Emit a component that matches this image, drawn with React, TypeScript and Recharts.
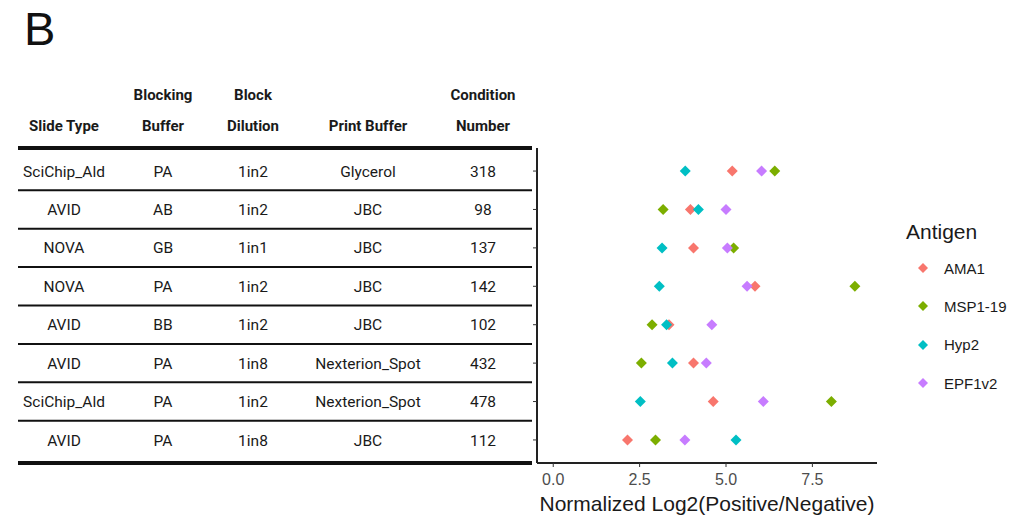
import { ScatterChart, Scatter, XAxis, YAxis, ReferenceLine } from "recharts";

const slideType = ["SciChip_Ald", "AVID", "NOVA", "NOVA", "AVID", "AVID", "SciChip_Ald", "AVID"];
const blockingBuffer = ["PA", "AB", "GB", "PA", "BB", "PA", "PA", "PA"];
const blockDilution = ["1in2", "1in2", "1in1", "1in2", "1in2", "1in8", "1in2", "1in8"];
const printBuffer = ["Glycerol", "JBC", "JBC", "JBC", "JBC", "Nexterion_Spot", "Nexterion_Spot", "JBC"];
const conditionNumber = ["318", "98", "137", "142", "102", "432", "478", "112"];

const ama1 = [5.18, 3.97, 4.06, 5.84, 3.35, 4.06, 4.63, 2.15];
const msp119 = [6.41, 3.18, 5.22, 8.73, 2.86, 2.55, 8.05, 2.96];
const hyp2 = [3.82, 4.2, 3.15, 3.07, 3.28, 3.45, 2.52, 5.29];
const epf1v2 = [6.03, 5.0, 5.04, 5.61, 4.59, 4.43, 6.08, 3.81];

const xTicks = [0, 2.5, 5, 7.5];

const series = [
  { name: "AMA1", values: ama1, color: "#F8766D" },
  { name: "MSP1-19", values: msp119, color: "#7CAE00" },
  { name: "Hyp2", values: hyp2, color: "#00BFC4" },
  { name: "EPF1v2", values: epf1v2, color: "#C77CFF" },
];

const rowTicks = slideType.map((_, i) => i + 1);
const yDomain = [0.4, slideType.length + 0.6];
const sepLines = [yDomain[0], ...slideType.slice(1).map((_, i) => i + 1.5), yDomain[1]];

const tableFont = "Roboto, 'Open Sans', sans-serif";
const plotFont = "'Liberation Sans', Arial, sans-serif";
const colX = [56, 155, 245, 360, 475];

const RowTick = (props: any) => {
  const { y, payload } = props;
  const i = payload.value - 1;
  const cells = [slideType[i], blockingBuffer[i], blockDilution[i], printBuffer[i], conditionNumber[i]];
  return (
    <g>
      {cells.map((c, k) => (
        <text
          key={k}
          x={colX[k]}
          y={y}
          dy="0.36em"
          textAnchor="middle"
          fontFamily={tableFont}
          fontSize={15.5}
          fill="#1a1a1a"
        >
          {c}
        </text>
      ))}
    </g>
  );
};

const sepShape = (edge: boolean) => (props: any) => (
  <line x1={10} x2={524} y1={props.y1} y2={props.y1} stroke="#111" strokeWidth={edge ? 4 : 2} />
);

const Diamond = (props: any) => {
  const { cx, cy, fill } = props;
  const r = 5.5;
  return (
    <polygon
      points={`${cx},${cy - r} ${cx + r},${cy} ${cx},${cy + r} ${cx - r},${cy}`}
      fill={fill}
    />
  );
};

const headers = [
  ["", "Slide Type"],
  ["Blocking", "Buffer"],
  ["Block", "Dilution"],
  ["", "Print Buffer"],
  ["Condition", "Number"],
];

export default function App() {
  return (
    <div style={{ position: "relative", width: 1002, height: 512, background: "#fff" }}>
      <div
        style={{
          position: "absolute",
          left: 16,
          top: -7,
          fontFamily: plotFont,
          fontSize: 47,
          color: "#111",
        }}
      >
        B
      </div>
      {headers.map((h, k) => (
        <div
          key={k}
          style={{
            position: "absolute",
            left: colX[k] - 60,
            width: 120,
            top: 72,
            textAlign: "center",
            fontFamily: tableFont,
            fontWeight: "bold",
            fontSize: 15,
            lineHeight: "31px",
            color: "#1a1a1a",
          }}
        >
          <div>{h[0] || "\u00a0"}</div>
          <div>{h[1]}</div>
        </div>
      ))}
      <ScatterChart
        width={1002}
        height={512}
        margin={{ top: 140, right: 133, bottom: 0, left: 0 }}
      >
        <XAxis
          type="number"
          dataKey="x"
          domain={[-0.47, 9.37]}
          allowDataOverflow
          ticks={xTicks}
          tickFormatter={(v: number) => v.toFixed(1)}
          height={57}
          axisLine={{ stroke: "#222", strokeWidth: 2 }}
          tickLine={{ stroke: "#333" }}
          tickSize={4}
          tick={{ fill: "#4d4d4d", fontSize: 16, fontFamily: plotFont, dy: 5 }}
          label={{
            value: "Normalized Log2(Positive/Negative)",
            position: "insideBottom",
            offset: 9,
            fill: "#1a1a1a",
            fontSize: 21,
            fontFamily: plotFont,
          }}
        />
        <YAxis
          yAxisId="rows"
          type="number"
          dataKey="y"
          domain={yDomain}
          allowDataOverflow
          reversed
          ticks={rowTicks}
          width={529}
          axisLine={{ stroke: "#222", strokeWidth: 2 }}
          tickLine={{ stroke: "#333" }}
          tickSize={4}
          tick={<RowTick />}
          interval={0}
        />
        {sepLines.map((v, k) => (
          <ReferenceLine
            key={k}
            yAxisId="rows"
            y={v}
            ifOverflow="visible"
            shape={sepShape(k === 0 || k === sepLines.length - 1)}
          />
        ))}
        {series.map((s) => (
          <Scatter
            key={s.name}
            yAxisId="rows"
            name={s.name}
            data={s.values.map((v, i) => ({ x: v, y: i + 1 }))}
            fill={s.color}
            shape={<Diamond />}
            isAnimationActive={false}
          />
        ))}
      </ScatterChart>
      <div
        style={{
          position: "absolute",
          left: 898,
          top: 207,
          fontFamily: plotFont,
          color: "#1a1a1a",
          whiteSpace: "nowrap",
        }}
      >
        <div style={{ fontSize: 21, lineHeight: "34px" }}>Antigen</div>
        {series.map((s) => (
          <div key={s.name} style={{ display: "flex", alignItems: "center", height: 38.3 }}>
            <svg width={32} height={14}>
              <polygon points="17,2 22,7 17,12 12,7" fill={s.color} />
            </svg>
            <span style={{ fontSize: 15, marginLeft: 6 }}>{s.name}</span>
          </div>
        ))}
      </div>
    </div>
  );
}
